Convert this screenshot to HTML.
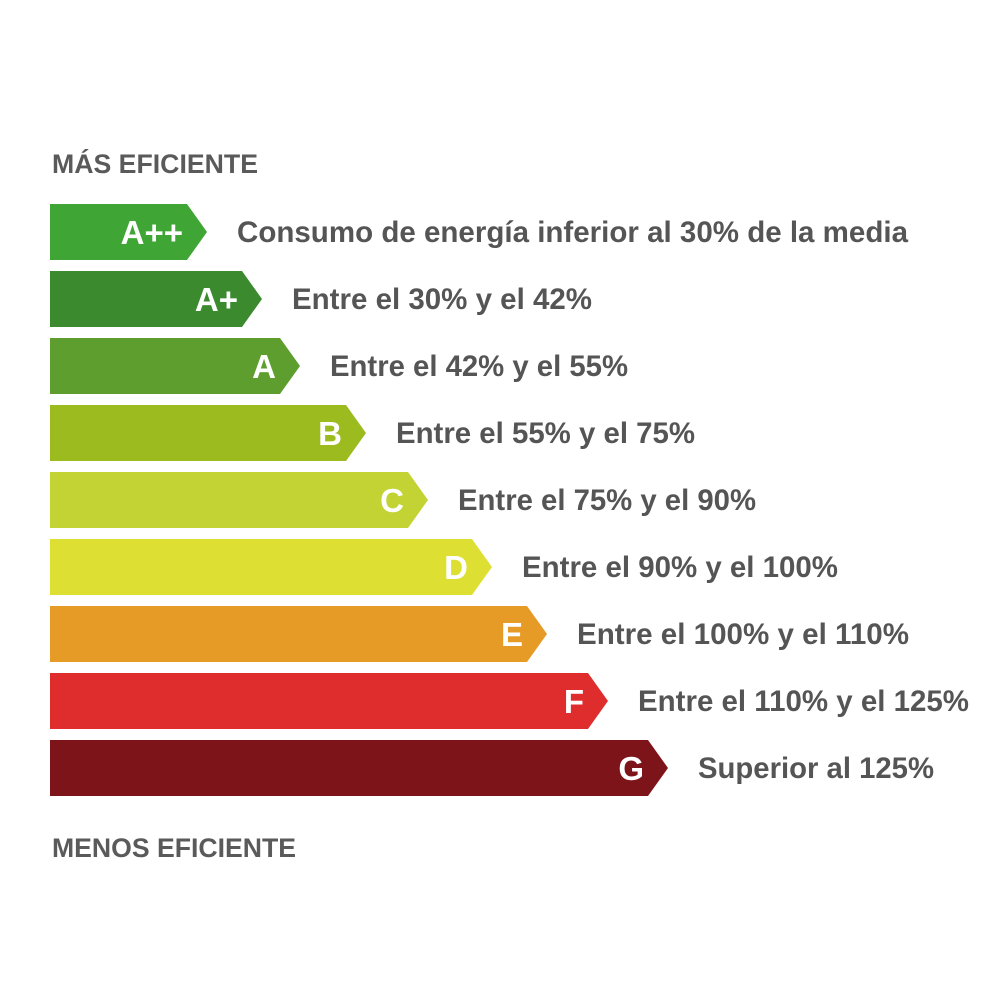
<!DOCTYPE html>
<html><head><meta charset="utf-8"><style>
body{margin:0;background:#fff}
svg{display:block}
text{font-family:"Liberation Sans Narrow","Liberation Sans",sans-serif;font-weight:bold}
</style></head><body>
<svg id="chart" width="1000" height="1000" viewBox="0 0 1000 1000">
<rect width="1000" height="1000" fill="#fff"/>
<text x="52" y="173" font-size="27" fill="#5a5a5a" textLength="206" lengthAdjust="spacingAndGlyphs">MÁS EFICIENTE</text>
<text x="52" y="857" font-size="27" fill="#5a5a5a" textLength="244" lengthAdjust="spacingAndGlyphs">MENOS EFICIENTE</text>
<g id="bars"></g>
</svg>
<script>
const classes=["A++","A+","A","B","C","D","E","F","G"];
const tipValues=[207,262,300,366,428,492,547,608,668];
const labels=["Consumo de energía inferior al 30% de la media","Entre el 30% y el 42%","Entre el 42% y el 55%","Entre el 55% y el 75%","Entre el 75% y el 90%","Entre el 90% y el 100%","Entre el 100% y el 110%","Entre el 110% y el 125%","Superior al 125%"];
const labelWidths=[671,300,298,299,298,316,332,331,236];
const colors=["#3fa535","#3b8a2e","#5e9e2e","#9bbb1f","#c3d334","#dde033","#e59b25","#df2d2d","#7d1419"];
const NS="http://www.w3.org/2000/svg";
const g=document.getElementById("bars");
const top0=204,step=67,h=56,x0=50,tipDepth=20;
classes.forEach((c,i)=>{
  const y=top0+i*step, tip=tipValues[i], body=tip-tipDepth;
  const p=document.createElementNS(NS,"polygon");
  
  
  p.setAttribute("points",`${x0},${y} ${body},${y} ${tip},${y+h/2} ${body},${y+h} ${x0},${y+h}`);
  p.setAttribute("fill",colors[i]);
  g.appendChild(p);
  const t=document.createElementNS(NS,"text");
  
  
  t.setAttribute("x",tip-24);t.setAttribute("y",y+h/2+12);
  t.setAttribute("text-anchor","end");t.setAttribute("fill","#fff");t.setAttribute("font-size","33");
  t.textContent=c;g.appendChild(t);
  const l=document.createElementNS(NS,"text");
  
  
  l.setAttribute("x",tip+30);l.setAttribute("y",y+h/2+10);
  l.setAttribute("fill","#555");l.setAttribute("font-size","30");
  l.setAttribute("textLength",labelWidths[i]);l.setAttribute("lengthAdjust","spacingAndGlyphs");
  l.textContent=labels[i];g.appendChild(l);
});
</script>
</body></html>
